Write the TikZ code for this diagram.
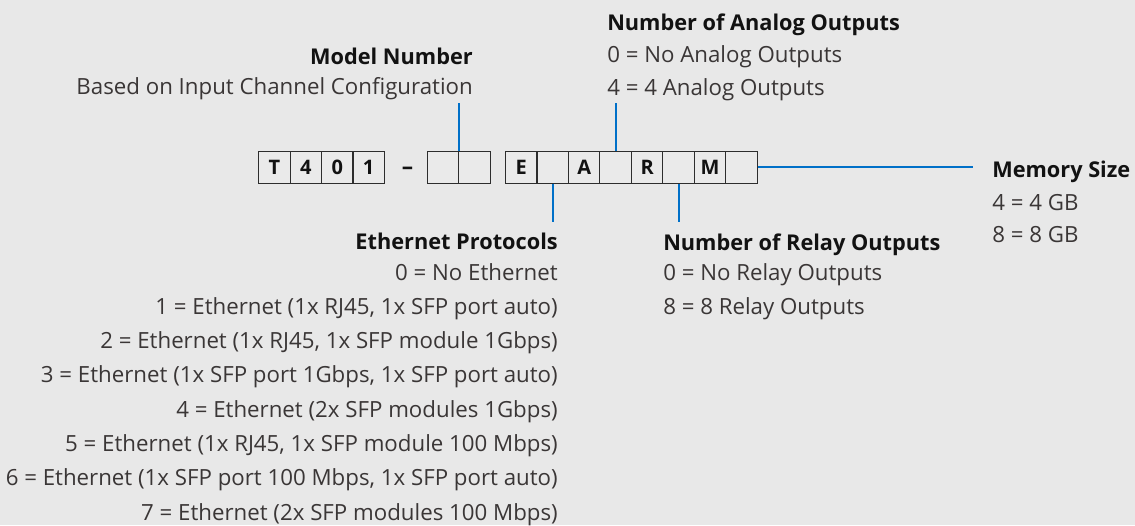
\documentclass[tikz,border=0pt]{standalone}
\usepackage{fontspec}
\setmainfont{Open Sans}
\usetikzlibrary{positioning,matrix}
\definecolor{bgc}{RGB}{232,232,232}
\definecolor{cellc}{RGB}{234,234,234}
\definecolor{boxc}{RGB}{45,45,45}
\definecolor{headc}{RGB}{18,18,18}
\definecolor{bodyc}{RGB}{58,54,54}
\definecolor{leadblue}{RGB}{0,112,200}

\begin{document}
\begin{tikzpicture}[x=0.75pt, y=-0.75pt,
        arr/.style={matrix of nodes, ampersand replacement=\&, nodes in empty cells,
          line width=0.8pt, inner sep=0pt,
          row sep=-\pgflinewidth, column sep=-\pgflinewidth,
          nodes={draw=boxc, fill=cellc, anchor=center, minimum size=23.6pt, inner sep=0pt,
            text=headc, font=\fontsize{15}{18}\selectfont\bfseries}},
        head/.style={inner sep=0pt, text=headc, font=\fontsize{16.3}{18}\selectfont\bfseries},
        body/.style={inner sep=0pt, text=bodyc, font=\fontsize{16.7}{18}\selectfont},
        lead/.style={draw=leadblue, line width=1.5pt}
        ]
        \fill[bgc] (0,0) rectangle (1135,525);
        \useasboundingbox (0,0) rectangle (1135,525);

        \matrix[arr] (S) at (321.5,167.3) {
          T \& 4 \& 0 \& 1 \\
        };
        \node (dash) [right = 12pt of S, yshift=-3pt, inner sep=0pt, text=headc, font=\fontsize{17}{18}\selectfont\bfseries] {–};
        \matrix[arr] (P) at (458.9,167.3) {
          \& \\
        };
        \matrix[arr] (A) at (631.4,167.3) {
          E \& \& A \& \& R \& \& M \& \\
        };

        \node (model) [head, anchor=base east] at (473,64) {Model Number};
        \node (based) [body, anchor=base east] at (473,94) {Based on Input Channel Configuration};

        \node (analog) [head, anchor=base west] at (607,30) {Number of Analog Outputs};
        \node (analog0) [body, anchor=base west] at (607,62) {0 = No Analog Outputs};
        \node (analog4) [body, anchor=base west] at (607,95) {4 = 4 Analog Outputs};

        \node (mem) [head, anchor=base west] at (992,177) {Memory Size};
        \node (mem4) [body, anchor=base west] at (992,210) {4 = 4 GB};
        \node (mem8) [body, anchor=base west] at (992,242) {8 = 8 GB};

        \node (relay) [head, anchor=base west] at (663,250) {Number of Relay Outputs};
        \node (relay0) [body, anchor=base west] at (663,280) {0 = No Relay Outputs};
        \node (relay8) [body, anchor=base west] at (663,314) {8 = 8 Relay Outputs};

        \node (eth) [head, anchor=base east] at (558,249) {Ethernet Protocols};
        \foreach \i/\t in {0/{0 = No Ethernet},
            1/{1 = Ethernet (1x RJ45, 1x SFP port auto)},
            2/{2 = Ethernet (1x RJ45, 1x SFP module 1Gbps)},
            3/{3 = Ethernet (1x SFP port 1Gbps, 1x SFP port auto)},
            4/{4 = Ethernet (2x SFP modules 1Gbps)},
            5/{5 = Ethernet (1x RJ45, 1x SFP module 100 Mbps)},
            6/{6 = Ethernet (1x SFP port 100 Mbps, 1x SFP port auto)},
            7/{7 = Ethernet (2x SFP modules 100 Mbps)}}
          \node (eth\i) [body, anchor=base east] at (558,280+34.3*\i) {\t};

        \coordinate (topend) at (0,103);
        \coordinate (botend) at (0,221.7);
        \coordinate (memend) at (973,0);
        \draw[lead] (P-1-1.north east) -- (P-1-1.north east |- topend);
        \draw[lead] (A-1-4.north) -- (A-1-4.north |- topend);
        \draw[lead] (A-1-2.south) -- (A-1-2.south |- botend);
        \draw[lead] (A-1-6.south) -- (A-1-6.south |- botend);
        \draw[lead] (A-1-8.east) -- (A-1-8.east -| memend);
      \end{tikzpicture}
\end{document}
